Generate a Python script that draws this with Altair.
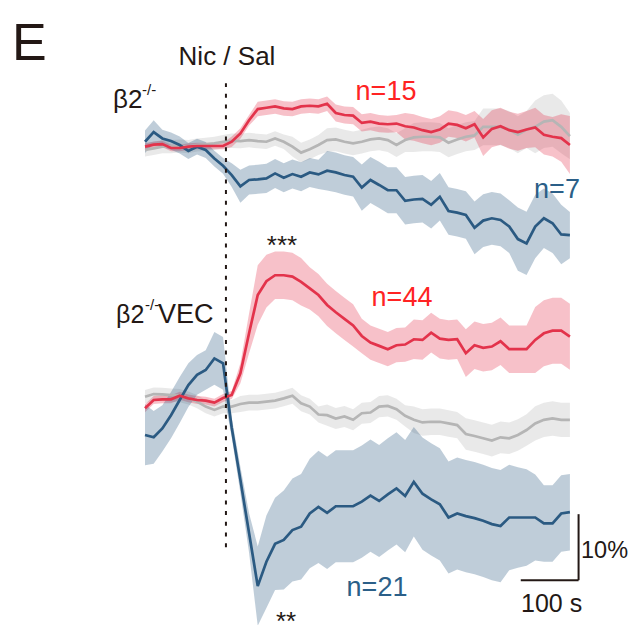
import altair as alt
import pandas as pd

# time (s) relative to Nic / Sal application
T = [-140, -125, -110, -95, -80, -65, -50, -35, -20, -5, 10, 25, 40, 55, 70, 85, 100, 115,
     130, 145, 160, 175, 190, 205, 220, 235, 250, 265, 280, 295, 310, 325, 340, 355, 370,
     385, 400, 415, 430, 445, 460, 475, 490, 505, 520, 535, 550, 565, 580, 595]

# ---- beta2-/- panel (% change) ----
TOP_RED = [-0.1, 0.2, 0.3, -0.3, -0.3, -0.1, 0.0, 0.0, 0.0, 0.0,
           0.65, 1.9, 3.9, 5.6, 5.8, 6.0, 5.7, 5.6, 6.0, 6.1,
           6.0, 6.4, 5.0, 4.7, 4.6, 3.5, 3.7, 3.4, 3.3, 3.4,
           3.0, 2.8, 2.4, 2.1, 2.5, 3.4, 3.2, 2.7, 3.3, 1.3,
           2.6, 3.0, 2.4, 2.1, 2.5, 2.8, 1.7, 1.4, 1.2, 0.15]
TOP_RED_SEM = [0.5, 0.5, 0.5, 0.5, 0.5, 0.5, 0.5, 0.5, 0.5, 0.5,
               0.8, 0.8, 0.8, 1.1, 1.1, 1.1, 1.1, 1.1, 1.1, 1.1,
               1.1, 1.1, 1.3, 1.3, 1.3, 1.3, 1.3, 1.3, 1.3, 1.3,
               2.0, 2.0, 2.0, 2.0, 2.0, 2.0, 2.0, 2.0, 2.0, 2.8,
               2.8, 2.8, 2.8, 2.8, 2.8, 3.0, 3.0, 3.0, 3.6, 4.4]
TOP_GRAY = [-0.6, -0.35, -0.1, -0.1, 0.0, -0.1, 0.15, 0.25, 0.4, 0.65,
            0.8, 0.75, 0.9, 0.75, 0.65, 1.15, 0.65, -0.1, -1.0, -0.5,
            0.15, 0.9, 1.0, 0.65, 0.4, 0.65, 1.0, 1.15, 0.9, 0.15,
            0.9, 1.3, 1.4, 1.4, 1.3, 0.5, 1.0, 1.4, 1.6, 2.9,
            2.9, 2.9, 2.5, 1.7, 2.5, 2.9, 3.7, 3.9, 2.9, 1.5]
TOP_GRAY_SEM = [1.0, 1.0, 1.0, 1.0, 1.0, 1.0, 1.0, 1.0, 1.0, 1.0,
                1.1, 1.1, 1.1, 1.1, 1.1, 1.1, 1.1, 1.5, 1.5, 1.5,
                1.5, 1.8, 1.8, 1.8, 1.8, 1.8, 1.8, 1.8, 1.8, 1.8,
                1.8, 2.2, 2.2, 2.2, 2.2, 2.2, 2.2, 2.2, 2.2, 2.8,
                2.8, 2.8, 2.8, 2.8, 2.8, 4.0, 4.0, 4.0, 4.0, 3.5]
TOP_BLUE = [0.65, 2.1, 1.15, 0.75, 0.15, -0.75, -0.1, -0.6, -1.9, -3.0,
            -4.4, -6.1, -5.15, -5.05, -4.9, -4.15, -4.8, -4.25, -4.65, -4.0,
            -4.3, -3.75, -4.0, -4.4, -4.65, -6.3, -5.15, -5.9, -6.7, -6.7,
            -8.3, -8.1, -8.0, -8.9, -7.7, -9.85, -10.1, -10.45, -12.4, -11.3,
            -10.95, -11.2, -12.2, -14.1, -14.75, -12.2, -10.95, -11.7, -13.4, -13.5]
TOP_BLUE_SEM = [1.7, 1.8, 1.3, 1.3, 1.3, 1.2, 1.2, 1.2, 1.2, 1.2,
                1.8, 2.5, 2.2, 2.2, 2.2, 2.2, 2.2, 2.2, 2.2, 2.2,
                2.2, 3.0, 3.0, 3.0, 3.0, 3.5, 3.5, 3.5, 3.5, 3.5,
                3.6, 3.6, 3.6, 3.6, 3.6, 3.6, 3.6, 3.6, 4.0, 4.0,
                4.0, 4.0, 4.0, 4.8, 4.8, 4.8, 4.5, 4.5, 4.5, 3.5]

# ---- beta2-/-VEC panel (% change) ----
BOT_RED = [-1.55, -0.3, -0.2, -0.2, 0.35, -0.05, -0.3, -0.4, -0.7, 0.0,
           0.45, 3.75, 9.8, 15.6, 17.7, 18.6, 18.6, 18.4, 17.6, 16.6,
           15.6, 14.1, 13.0, 12.0, 11.0, 9.4, 8.4, 7.9, 7.4, 8.0,
           8.1, 8.9, 8.8, 9.9, 9.0, 8.8, 8.9, 6.8, 8.0, 7.6,
           7.8, 8.6, 7.4, 7.4, 7.4, 8.8, 9.8, 10.2, 10.2, 9.3]
BOT_RED_SEM = [0.6, 0.6, 0.6, 0.6, 0.6, 0.6, 0.6, 0.6, 0.6, 0.6,
               0.6, 1.5, 3.0, 4.5, 4.0, 3.6, 3.6, 3.6, 3.6, 3.2,
               3.2, 3.2, 3.2, 3.2, 3.2, 2.6, 2.6, 2.6, 2.6, 2.6,
               2.6, 3.0, 3.0, 3.0, 3.0, 3.0, 3.0, 3.6, 3.6, 3.6,
               3.6, 3.6, 3.6, 3.6, 3.6, 5.0, 5.0, 5.0, 5.0, 5.0]
BOT_GRAY = [0.2, 0.6, 0.55, 0.45, 0.35, 0.0, -0.55, -1.3, -1.8, -1.3,
            -1.3, -0.9, -0.7, -0.7, -0.55, -0.4, -0.05, 0.35, -0.8, -1.3,
            -2.5, -2.6, -3.1, -2.8, -3.3, -2.3, -2.2, -1.3, -1.2, -1.7,
            -2.7, -3.3, -3.7, -3.6, -3.6, -3.85, -4.1, -5.45, -5.75, -6.1,
            -6.45, -5.95, -6.1, -5.6, -4.85, -3.85, -3.3, -3.1, -3.3, -3.3]
BOT_GRAY_SEM = [1.0, 1.0, 1.0, 1.0, 1.0, 1.0, 1.0, 1.0, 1.0, 1.0,
                1.0, 1.2, 1.2, 1.2, 1.2, 1.2, 1.2, 1.2, 1.2, 1.2,
                1.2, 1.6, 1.6, 1.6, 1.6, 1.6, 1.6, 1.6, 1.6, 1.6,
                1.6, 2.0, 2.0, 2.0, 2.0, 2.0, 2.0, 2.4, 2.4, 2.4,
                2.4, 2.4, 2.4, 2.4, 2.4, 2.6, 2.6, 2.6, 2.6, 2.6]
BOT_BLUE = [-5.6, -5.95, -4.6, -2.6, -0.3, 1.95, 3.5, 4.25, 6.0, 5.25,
            -4.5, -12.4, -20.45, -28.5, -24.8, -22.1, -21.5, -20.0, -19.5, -17.5,
            -16.5, -17.4, -16.4, -16.4, -16.4, -15.7, -14.8, -15.6, -14.6, -13.7,
            -14.85, -12.7, -14.5, -15.35, -16.1, -18.1, -17.5, -17.9, -18.2, -18.6,
            -19.1, -19.4, -18.1, -18.1, -18.1, -18.1, -19.0, -19.0, -17.5, -17.3]
BOT_BLUE_SEM = [4.6, 4.0, 3.5, 3.5, 3.5, 3.3, 3.0, 3.0, 4.0, 4.0,
                1.5, 2.0, 3.0, 6.0, 7.0, 7.0, 7.5, 7.8, 8.0, 8.3,
                8.5, 8.5, 8.5, 8.5, 8.5, 8.5, 8.5, 8.5, 8.5, 8.5,
                8.5, 8.3, 8.5, 8.5, 8.5, 8.5, 8.5, 8.5, 8.5, 8.5,
                8.5, 8.5, 8.0, 7.6, 7.3, 6.5, 5.8, 5.8, 5.8, 5.8]

# injection marker and scale bar (in data units of the lower panel)
INJECTION_T = [0]
INJECTION_V = [-22.6, 47.7]
SCALEBAR_T = [510, 610]   # 100 s
SCALEBAR_V = [-27.6, -17.6]  # 10 %

RED, GRAY, BLUE = "#E3334B", "#B5B5B5", "#2B5A82"
RED_TXT, BLUE_TXT, INK = "#FF2323", "#2B5F88", "#231815"
FONT = "Liberation Sans"

W, H = 620, 617
xs = alt.Scale(domain=[-377, 695.5], nice=False, zero=False)
ys_top = alt.Scale(domain=[-72.57, 20.91], nice=False, zero=False)
ys_bot = alt.Scale(domain=[-34.39, 59.09], nice=False, zero=False)


def panel(series, ys):
    rows = []
    for grp, (m, s) in series.items():
        for t, mv, sv in zip(T, m, s):
            rows.append({"t": t, "grp": grp, "m": mv, "lo": mv - sv, "hi": mv + sv})
    df = pd.DataFrame(rows)
    base = alt.Chart(df)
    band_style = {"gray": ("#9A9A9A", 0.22), "red": (RED, 0.3), "blue": (BLUE, 0.3)}
    line_col = {"gray": GRAY, "red": RED, "blue": BLUE}
    layers = []
    for g in ["gray", "red", "blue"]:
        col, op = band_style[g]
        layers.append(
            base.transform_filter(alt.datum.grp == g)
            .mark_area(color=col, opacity=op, interpolate="linear")
            .encode(x=alt.X("t:Q", scale=xs, axis=None),
                    y=alt.Y("lo:Q", scale=ys, axis=None), y2="hi:Q")
        )
    for g in ["gray", "blue", "red"]:
        layers.append(
            base.transform_filter(alt.datum.grp == g)
            .mark_line(color=line_col[g], strokeWidth=2.7)
            .encode(x=alt.X("t:Q", scale=xs, axis=None),
                    y=alt.Y("m:Q", scale=ys, axis=None))
        )
    return layers


top_layers = panel({"gray": (TOP_GRAY, TOP_GRAY_SEM), "red": (TOP_RED, TOP_RED_SEM),
                    "blue": (TOP_BLUE, TOP_BLUE_SEM)}, ys_top)
bot_layers = panel({"gray": (BOT_GRAY, BOT_GRAY_SEM), "red": (BOT_RED, BOT_RED_SEM),
                    "blue": (BOT_BLUE, BOT_BLUE_SEM)}, ys_bot)

inj = alt.Chart(pd.DataFrame({"t": INJECTION_T, "v0": [INJECTION_V[0]], "v1": [INJECTION_V[1]]})).mark_rule(
    color=INK, strokeWidth=2, strokeDash=[4, 6.7]
).encode(x=alt.X("t:Q", scale=xs, axis=None), y=alt.Y("v0:Q", scale=ys_bot, axis=None), y2="v1:Q")

sb_h = alt.Chart(pd.DataFrame({"t0": [SCALEBAR_T[0]], "t1": [SCALEBAR_T[1]], "v": [SCALEBAR_V[0]]})).mark_rule(
    color=INK, strokeWidth=2
).encode(x=alt.X("t0:Q", scale=xs, axis=None), x2="t1:Q", y=alt.Y("v:Q", scale=ys_bot, axis=None))
sb_v = alt.Chart(pd.DataFrame({"t": [SCALEBAR_T[1]], "v0": [SCALEBAR_V[0]], "v1": [SCALEBAR_V[1]]})).mark_rule(
    color=INK, strokeWidth=2
).encode(x=alt.X("t:Q", scale=xs, axis=None), y=alt.Y("v0:Q", scale=ys_bot, axis=None), y2="v1:Q")

top = alt.layer(*top_layers)
bottom = alt.layer(*bot_layers, inj, sb_h, sb_v)


def label(txt, x, y, size=26, color=INK, align="left"):
    return alt.Chart(pd.DataFrame({"s": [txt]})).mark_text(
        font=FONT, fontSize=size, color=color, align=align, baseline="alphabetic"
    ).encode(text="s:N", x=alt.value(x), y=alt.value(y))


labels = [
    label("E", 4, 52, size=52),
    label("Nic / Sal", 219, 57, align="center"),
    label("β2", 105, 100, size=26),
    label("-/-", 134, 87, size=15),
    label("β2", 108, 315, size=25),
    label("-/-", 137, 302, size=15),
    label("VEC", 150, 315, size=27),
    label("n=15", 378, 92, size=27, color=RED_TXT, align="center"),
    label("n=7", 549, 190, size=27, color=BLUE_TXT, align="center"),
    label("n=44", 394, 298, size=27, color=RED_TXT, align="center"),
    label("n=21", 369, 588, size=27, color=BLUE_TXT, align="center"),
    label("***", 274, 246, size=26, align="center"),
    label("**", 278, 622, size=26, align="center"),
    label("10%", 573, 550, size=23.5),
    label("100 s", 513, 604, size=25),
]

chart = alt.layer(top, bottom, *labels).resolve_scale(y="independent").properties(
    width=W, height=H, padding=0, autosize=alt.AutoSizeParams(type="none")
).configure_view(stroke=None)

chart.save("out.html", embed_options={"renderer": "svg", "actions": False})
